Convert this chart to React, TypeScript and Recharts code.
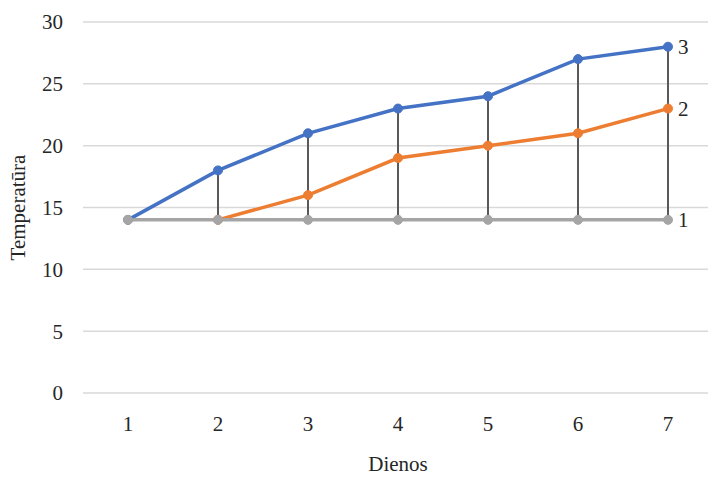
import {
  ComposedChart,
  Line,
  Bar,
  XAxis,
  YAxis,
  CartesianGrid,
  LabelList,
} from "recharts";

// Values
const DAYS = ["1", "2", "3", "4", "5", "6", "7"];
const SERIES_3 = [14, 18, 21, 23, 24, 27, 28];
const SERIES_2 = [null, 14, 16, 19, 20, 21, 23];
const SERIES_1 = [14, 14, 14, 14, 14, 14, 14];
const Y_TICKS = [0, 5, 10, 15, 20, 25, 30];

const data = DAYS.map((day, i) => ({
  day,
  s3: SERIES_3[i],
  s2: SERIES_2[i],
  s1: SERIES_1[i],
  hl: [SERIES_1[i], SERIES_3[i]],
}));

const FONT = "Liberation Serif";
const TEXT = "#262626";
const FS = 21;

const XTick = (props: any) => {
  const { x, y, payload } = props;
  return (
    <text x={x} y={y} dy="0.72em" textAnchor="middle" fill={TEXT} fontFamily={FONT} fontSize={FS}>
      {payload.value}
    </text>
  );
};

const YTick = (props: any) => {
  const { x, y, payload } = props;
  return (
    <text x={x} y={y} dy="0.35em" textAnchor="end" fill={TEXT} fontFamily={FONT} fontSize={FS}>
      {payload.value}
    </text>
  );
};

// name label only next to the last point of each line
const endLabel = (name: string) => (props: any) => {
  const { x, y, index } = props;
  if (index !== DAYS.length - 1) return null;
  return (
    <text x={x + 10} y={y} dy="0.35em" fill={TEXT} fontFamily={FONT} fontSize={FS}>
      {name}
    </text>
  );
};

export default function App() {
  return (
    <div
      style={{
        position: "absolute",
        left: 0,
        top: 0,
        width: 708,
        height: 477,
        overflow: "hidden",
        background: "#fff",
      }}
    >
      <ComposedChart
        width={713}
        height={477}
        data={data}
        margin={{ top: 22, right: 0, bottom: 0, left: 0 }}
      >
        <CartesianGrid vertical={false} stroke="#d9d9d9" strokeWidth={1.5} />
        <XAxis
          dataKey="day"
          axisLine={false}
          tickLine={false}
          tickSize={0}
          tickMargin={23}
          height={84}
          tick={<XTick />}
          label={{
            value: "Dienos",
            position: "insideBottom",
            offset: 6,
            fill: TEXT,
            fontFamily: FONT,
            fontSize: FS,
          }}
        />
        <YAxis
          domain={[0, 30]}
          ticks={Y_TICKS}
          axisLine={false}
          tickLine={false}
          tickSize={0}
          tickMargin={20}
          width={83}
          tick={<YTick />}
          label={{
            value: "Temperatūra",
            angle: -90,
            position: "insideLeft",
            offset: 18,
            fill: TEXT,
            fontFamily: FONT,
            fontSize: FS,
            style: { textAnchor: "middle" },
          }}
        />
        <Bar dataKey="hl" barSize={2} fill="#595959" isAnimationActive={false} />
        <Line
          dataKey="s3"
          stroke="#4472c4"
          strokeWidth={3.5}
          dot={{ r: 4.5, fill: "#4472c4", stroke: "#4472c4", strokeWidth: 1 }}
          isAnimationActive={false}
        >
          <LabelList dataKey="s3" content={endLabel("3")} />
        </Line>
        <Line
          dataKey="s2"
          stroke="#ed7d31"
          strokeWidth={3.5}
          dot={{ r: 4.5, fill: "#ed7d31", stroke: "#ed7d31", strokeWidth: 1 }}
          isAnimationActive={false}
        >
          <LabelList dataKey="s2" content={endLabel("2")} />
        </Line>
        <Line
          dataKey="s1"
          stroke="#a5a5a5"
          strokeWidth={3.5}
          dot={{ r: 4.5, fill: "#a5a5a5", stroke: "#a5a5a5", strokeWidth: 1 }}
          isAnimationActive={false}
        >
          <LabelList dataKey="s1" content={endLabel("1")} />
        </Line>
      </ComposedChart>
    </div>
  );
}
